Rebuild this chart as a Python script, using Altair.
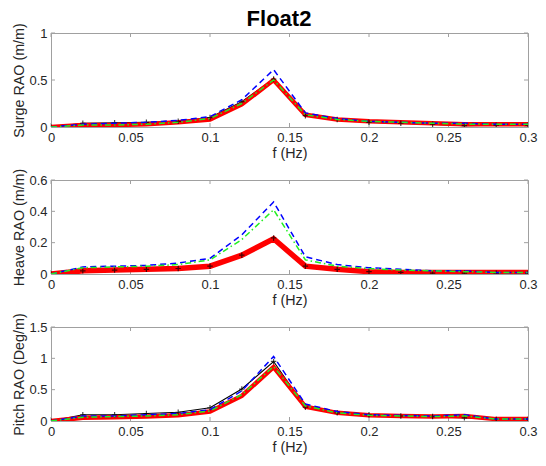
import altair as alt
import pandas as pd

# ---- data ----
freq = [0.00, 0.02, 0.04, 0.06, 0.08, 0.10, 0.12, 0.14, 0.16, 0.18, 0.20, 0.22, 0.24, 0.26, 0.28, 0.30]

surge_black = [0.00, 0.04, 0.045, 0.05, 0.06, 0.10, 0.27, 0.51, 0.12, 0.08, 0.05, 0.04, 0.03, 0.015, 0.02, 0.02]
surge_red   = [0.00, 0.02, 0.02, 0.03, 0.05, 0.08, 0.24, 0.50, 0.13, 0.08, 0.06, 0.05, 0.04, 0.03, 0.03, 0.03]
surge_blue  = [0.00, 0.03, 0.04, 0.05, 0.07, 0.11, 0.29, 0.61, 0.15, 0.09, 0.06, 0.05, 0.04, 0.04, 0.03, 0.03]
surge_green = [0.00, 0.02, 0.02, 0.03, 0.05, 0.09, 0.25, 0.50, 0.13, 0.08, 0.06, 0.05, 0.04, 0.03, 0.03, 0.03]

heave_black = [0.00, 0.02, 0.025, 0.03, 0.035, 0.05, 0.12, 0.23, 0.05, 0.03, 0.015, 0.01, 0.005, 0.005, 0.005, 0.005]
heave_red   = [0.00, 0.02, 0.025, 0.03, 0.035, 0.05, 0.12, 0.225, 0.05, 0.03, 0.015, 0.01, 0.01, 0.01, 0.01, 0.01]
heave_blue  = [0.00, 0.045, 0.05, 0.055, 0.07, 0.10, 0.25, 0.46, 0.11, 0.06, 0.04, 0.03, 0.02, 0.02, 0.01, 0.01]
heave_green = [0.00, 0.04, 0.045, 0.05, 0.06, 0.09, 0.22, 0.41, 0.09, 0.05, 0.035, 0.025, 0.02, 0.015, 0.01, 0.01]

pitch_black = [0.00, 0.10, 0.10, 0.12, 0.14, 0.21, 0.51, 0.95, 0.22, 0.13, 0.10, 0.08, 0.07, 0.05, 0.03, 0.03]
pitch_red   = [0.00, 0.05, 0.06, 0.07, 0.09, 0.15, 0.40, 0.86, 0.23, 0.13, 0.09, 0.08, 0.07, 0.08, 0.03, 0.03]
pitch_blue  = [0.00, 0.08, 0.08, 0.10, 0.12, 0.18, 0.48, 1.03, 0.27, 0.15, 0.10, 0.09, 0.08, 0.10, 0.03, 0.03]
pitch_green = [0.00, 0.06, 0.07, 0.08, 0.10, 0.16, 0.42, 0.87, 0.24, 0.13, 0.09, 0.08, 0.07, 0.08, 0.03, 0.03]

x_ticks = [0, 0.05, 0.1, 0.15, 0.2, 0.25, 0.3]
surge_ticks = [0, 0.5, 1]
heave_ticks = [0, 0.2, 0.4, 0.6]
pitch_ticks = [0, 0.5, 1, 1.5]

FONT = "Liberation Sans"
W, H = 477, 94
BOX = "#a0a0a0"
TXT = "#262626"
TICKLEN = 4
PLUS = "M-1,0L1,0M0,-1L0,1"


def panel(black, red, blue, green, ymax, yticks, ytitle, red_w):
    df = pd.DataFrame({"f": freq, "black": black, "red": red, "blue": blue, "green": green})
    xs = alt.Scale(domain=[0, 0.3], nice=False)
    ys = alt.Scale(domain=[0, ymax], nice=False)
    xax = alt.Axis(values=x_ticks, format="~g", title="f (Hz)", grid=False,
                   tickSize=0, labelPadding=4, titlePadding=2, domainColor=BOX,
                   labelFont=FONT, titleFont=FONT, labelFontSize=13, titleFontSize=14.3,
                   labelColor=TXT, titleColor=TXT, titleFontWeight="normal",
                   labelOverlap=False, labelFlush=False)
    yax = alt.Axis(values=yticks, format="~g", title=ytitle, grid=False,
                   tickSize=0, labelPadding=4, titlePadding=2, domainColor=BOX,
                   labelFont=FONT, titleFont=FONT, labelFontSize=13, titleFontSize=14.3,
                   labelColor=TXT, titleColor=TXT, titleFontWeight="normal",
                   labelOverlap=False, labelFlush=False)
    base = alt.Chart(df)

    def X(field):
        return alt.X(field, scale=xs, axis=xax)

    def Y(field):
        return alt.Y(field, scale=ys, axis=yax)

    def line(col, color, width, dash=None):
        kw = dict(color=color, strokeWidth=width, clip=True)
        if dash:
            kw["strokeDash"] = dash
        return base.mark_line(**kw).encode(x=X("f:Q"), y=Y(f"{col}:Q"))

    black_l = line("black", "#000000", 1.1)
    red_l = line("red", "#ff0000", red_w)
    black_p = base.mark_point(shape=PLUS, size=30, color="#000000", strokeWidth=1.2,
                              filled=False, clip=True).encode(x=X("f:Q"), y=Y("black:Q"))
    blue_l = line("blue", "#0000ff", 1.5, [6, 4])
    green_l = line("green", "#22ee22", 1.5, [6, 3, 1.5, 3])

    # inner ticks (MATLAB-style box)
    xt = pd.DataFrame({"v": x_ticks})
    yt = pd.DataFrame({"v": yticks})
    tick_style = dict(color=BOX, strokeWidth=1)
    xb = alt.Chart(xt).mark_rule(**tick_style).encode(
        x=X("v:Q"), y=alt.value(H), y2=alt.value(H - TICKLEN))
    xtp = alt.Chart(xt).mark_rule(**tick_style).encode(
        x=X("v:Q"), y=alt.value(0), y2=alt.value(TICKLEN))
    yl = alt.Chart(yt).mark_rule(**tick_style).encode(
        y=Y("v:Q"), x=alt.value(0), x2=alt.value(TICKLEN))
    yr = alt.Chart(yt).mark_rule(**tick_style).encode(
        y=Y("v:Q"), x=alt.value(W), x2=alt.value(W - TICKLEN))

    return alt.layer(xb, xtp, yl, yr, black_l, red_l, black_p, blue_l, green_l).properties(
        width=W, height=H)


p1 = panel(surge_black, surge_red, surge_blue, surge_green, 1, surge_ticks, "Surge RAO (m/m)", 4.5)
p2 = panel(heave_black, heave_red, heave_blue, heave_green, 0.6, heave_ticks, "Heave RAO (m/m)", 5.5)
p3 = panel(pitch_black, pitch_red, pitch_blue, pitch_green, 1.5, pitch_ticks, "Pitch RAO (Deg/m)", 4.5)

chart = alt.vconcat(p1, p2, p3, spacing=53, bounds="flush").properties(
    title=alt.TitleParams("Float2", fontSize=22, fontWeight="bold", font=FONT,
                          color="#000000", anchor="middle", offset=-9, dx=4),
    padding={"left": 12, "top": 8, "right": 2, "bottom": 0},
    background="white",
).configure_view(stroke=BOX, strokeWidth=1)

chart.save("out.html", embed_options={"renderer": "svg", "actions": False})
